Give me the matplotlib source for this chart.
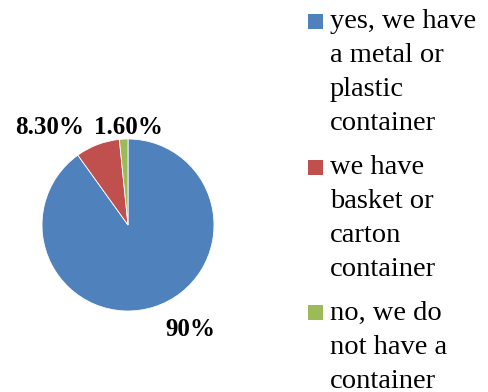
import matplotlib.pyplot as plt
from matplotlib.patches import Rectangle

plt.rcParams['font.family'] = ['Liberation Serif', 'DejaVu Serif']

labels = ['yes, we have\na metal or\nplastic\ncontainer',
          'we have\nbasket or\ncarton\ncontainer',
          'no, we do\nnot have a\ncontainer']
shares = [90, 8.3, 1.6]
share_text = ['90%', '8.30%', '1.60%']
colors = ['#4F81BD', '#C0504D', '#9BBB59']

W, H = 489, 392
fig = plt.figure(figsize=(W / 100, H / 100), dpi=100)

# pie: centre (128, 225) px, radius 86 px
cx, cy, r = 128, 225, 86
ax = fig.add_axes([(cx - r) / W, (H - cy - r) / H, 2 * r / W, 2 * r / H])
ax.pie(shares, colors=colors, startangle=90, counterclock=False,
       wedgeprops=dict(edgecolor='white', linewidth=0.6))
ax.set_xlim(-1, 1)
ax.set_ylim(-1, 1)
ax.axis('off')

# value labels, placed where the original has them (pixel coords)
label_pos = [(190, 330), (50, 128), (128, 128)]
for txt, (px, py) in zip(share_text, label_pos):
    fig.text(px / W, 1 - py / H, txt, fontsize=18, fontweight='bold',
             ha='center', va='center')

# legend drawn by hand so the swatch sits on the first line
entry_top = [22, 168, 313]
for lab, col, ty in zip(labels, colors, entry_top):
    fig.patches.append(Rectangle((308 / W, 1 - (ty + 7) / H), 15 / W, 15 / H,
                                 facecolor=col, edgecolor='none',
                                 transform=fig.transFigure))
    fig.text(330 / W, 1 - ty / H, lab.split('\n')[0], fontsize=20.5,
             ha='left', va='center')
    rest = lab.split('\n')[1:]
    for i, line in enumerate(rest, start=1):
        fig.text(330 / W, 1 - (ty + 34 * i) / H, line, fontsize=20.5,
                 ha='left', va='center')

fig.savefig('out.png', dpi=100)
